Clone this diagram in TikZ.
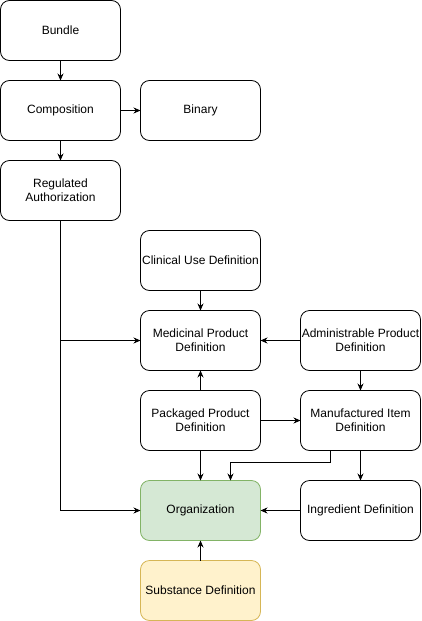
\documentclass[tikz,border=0pt]{standalone}
\usepackage{fontspec}
\setmainfont{Liberation Sans}
\usetikzlibrary{positioning,arrows.meta}

\definecolor{orgfill}{HTML}{D5E8D4}
\definecolor{orgline}{HTML}{82B366}
\definecolor{subfill}{HTML}{FFF2CC}
\definecolor{subline}{HTML}{D6B656}

\tikzset{
	resource/.style={draw, rounded corners=9pt, minimum width=120pt, minimum height=60pt,
		inner sep=1pt, outer sep=0pt, align=center, font=\fontsize{12pt}{14pt}\selectfont},
	link/.style={-{Stealth[length=7pt,width=6pt]}, line width=0.8pt},
}

\begin{document}
\begin{tikzpicture}[node distance=20pt, line width=0.8pt]
		\useasboundingbox (0,0) rectangle (421pt,-621pt);
		\node[resource] (bundle) at (60.5pt,-30.5pt) {Bundle};
		\node[resource, below=of bundle] (composition) {Composition};
		\node[resource, right=of composition] (binary) {Binary};
		\node[resource, below=of composition] (regauth) {Regulated\\Authorization};
		\node[resource, below=90pt of binary] (clinical) {Clinical Use Definition};
		\node[resource, below=of clinical] (medprod) {Medicinal Product\\Definition};
		\node[resource, right=40pt of medprod] (adminprod) {Administrable Product\\Definition};
		\node[resource, below=of medprod] (packprod) {Packaged Product\\Definition};
		\node[resource, right=40pt of packprod] (manuitem) {Manufactured Item\\Definition};
		\node[resource, below=30pt of packprod, fill=orgfill, draw=orgline] (org) {Organization};
		\node[resource, right=40pt of org] (ingredient) {Ingredient Definition};
		\node[resource, below=of org, fill=subfill, draw=subline] (substance) {Substance Definition};
		\coordinate (branch) at (regauth.south |- medprod.west);
		% connectors
		\draw[link] (bundle) -- (composition);
		\draw[link] (composition) -- (binary);
		\draw[link] (composition) -- (regauth);
		\draw[link] (regauth.south) |- (org.west);
		\draw[link] (branch) -- (medprod.west);
		\draw[link] (clinical) -- (medprod);
		\draw[link] (adminprod) -- (medprod);
		\draw[link] (adminprod) -- (manuitem);
		\draw[link] (packprod) -- (medprod);
		\draw[link] (packprod) -- (manuitem);
		\draw[link] (packprod) -- (org);
		\draw[link] ([xshift=-30pt]manuitem.south) -- ++(0,-12pt) -| ([xshift=30pt]org.north);
		\draw[link] (manuitem) -- (ingredient);
		\draw[link] (ingredient) -- (org);
		\draw[link] (substance) -- (org);
	\end{tikzpicture}
\end{document}
